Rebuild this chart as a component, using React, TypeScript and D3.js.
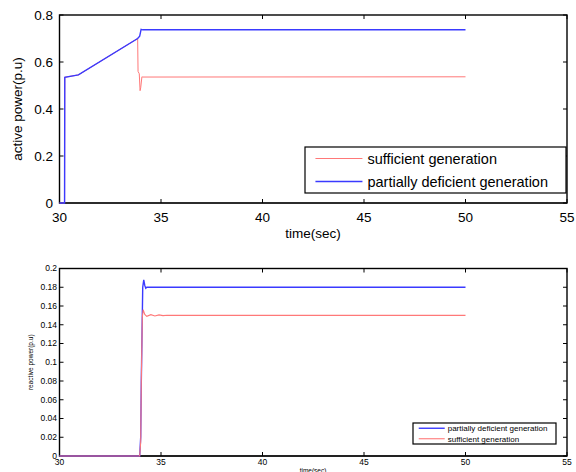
import * as d3 from 'd3'

// active power (top panel)
const activeDeficient: [number, number][] = [
  [30, 0], [30.25, 0], [30.26, 0.535], [30.93, 0.545], [33.85, 0.70],
  [33.95, 0.71], [34.02, 0.739], [34.1, 0.737], [50, 0.737],
]
const activeSufficient: [number, number][] = [
  [30, 0], [30.25, 0], [30.26, 0.535], [30.93, 0.545], [33.85, 0.70],
  [33.87, 0.56], [33.93, 0.55], [33.97, 0.478], [34.0, 0.49], [34.06, 0.537],
  [34.1, 0.536], [50, 0.537],
]

// reactive power (bottom panel)
const reactiveDeficient: [number, number][] = [
  [30, 0], [33.95, 0], [34.0, 0.02], [34.03, 0.08], [34.1, 0.18],
  [34.15, 0.188], [34.2, 0.182], [34.25, 0.179], [34.3, 0.18], [50, 0.18],
]
const reactiveSufficient: [number, number][] = [
  [30, 0], [33.95, 0], [34.0, 0.015], [34.03, 0.08], [34.08, 0.148],
  [34.12, 0.156], [34.2, 0.151], [34.3, 0.149], [34.5, 0.1508], [34.7, 0.1494],
  [34.9, 0.1505], [35.1, 0.1497], [35.3, 0.1502], [35.5, 0.15], [50, 0.15],
]

const xTicks = [30, 35, 40, 45, 50, 55]
const activeTicks = [0, 0.2, 0.4, 0.6, 0.8]
const reactiveTicks = [0, 0.02, 0.04, 0.06, 0.08, 0.1, 0.12, 0.14, 0.16, 0.18, 0.2]

const RED = '#ff7878'
const BLUE = '#3a3aff'

type Series = { name: string; data: [number, number][]; color: string; width: number }

type PanelProps = {
  top: number
  bottom: number
  yMax: number
  yTicks: number[]
  series: Series[]
  legend: Series[]
  fontSize: number
  labelFont: number
  yLabel: string
  yLabelX: number
  xLabelY: number
  tickLabelY: number
  tickPad: number
  legendBox: { x: number; y: number; w: number; h: number }
  legendFont: number
  legendLine: number
  legendGap: number
  bottomStroke: number
}

const left = 59.5
const right = 567

const Panel = (p: PanelProps) => {
  const x = d3.scaleLinear().domain([30, 55]).range([left, right])
  const y = d3.scaleLinear().domain([0, p.yMax]).range([p.bottom, p.top])
  const line = d3.line<[number, number]>().x(d => x(d[0])).y(d => y(d[1]))
  const tl = 4
  const rowH = p.legendBox.h / p.legend.length
  return (
    <g>
      <rect x={left} y={p.top} width={right - left} height={p.bottom - p.top} fill="none" stroke="#000" strokeWidth={1.4} />
      <line x1={left} x2={right} y1={p.bottom} y2={p.bottom} stroke="#222" strokeWidth={p.bottomStroke} />
      {xTicks.map(t => (
        <g key={t}>
          <line x1={x(t)} x2={x(t)} y1={p.bottom} y2={p.bottom - tl} stroke="#000" />
          <line x1={x(t)} x2={x(t)} y1={p.top} y2={p.top + tl} stroke="#000" />
          <text x={x(t)} y={p.tickLabelY} textAnchor="middle" fontSize={p.fontSize}>{t}</text>
        </g>
      ))}
      {p.yTicks.map(t => (
        <g key={t}>
          <line x1={left} x2={left + tl} y1={y(t)} y2={y(t)} stroke="#000" />
          <line x1={right} x2={right - tl} y1={y(t)} y2={y(t)} stroke="#000" />
          <text x={left - p.tickPad} y={y(t)} dy="0.35em" textAnchor="end" fontSize={p.fontSize}>{t}</text>
        </g>
      ))}
      {p.series.map(s => (
        <path key={s.name} d={line(s.data) ?? ''} fill="none" stroke={s.color} strokeWidth={s.width} />
      ))}
      <text x={313} y={p.xLabelY} textAnchor="middle" fontSize={p.labelFont}>time(sec)</text>
      <text transform={`translate(${p.yLabelX},${(p.top + p.bottom) / 2}) rotate(-90)`} textAnchor="middle" fontSize={p.labelFont}>{p.yLabel}</text>
      <rect x={p.legendBox.x} y={p.legendBox.y} width={p.legendBox.w} height={p.legendBox.h} fill="#fff" stroke="#000" strokeWidth={1.2} />
      {p.legend.map((s, i) => {
        const cy = p.legendBox.y + rowH * (i + 0.5)
        const lx = p.legendBox.x + p.legendBox.w * 0.04
        return (
          <g key={s.name}>
            <line x1={lx} x2={lx + p.legendLine} y1={cy} y2={cy} stroke={s.color} strokeWidth={s.width} />
            <text x={lx + p.legendLine + p.legendGap} y={cy} dy="0.35em" fontSize={p.legendFont}>{s.name}</text>
          </g>
        )
      })}
    </g>
  )
}

export default function App() {
  const sufA: Series = { name: 'sufficient generation', data: activeSufficient, color: RED, width: 1 }
  const defA: Series = { name: 'partially deficient generation', data: activeDeficient, color: BLUE, width: 1.4 }
  const sufR: Series = { name: 'sufficient generation', data: reactiveSufficient, color: RED, width: 1.1 }
  const defR: Series = { name: 'partially deficient generation', data: reactiveDeficient, color: BLUE, width: 1.4 }
  return (
    <svg width={576} height={472} style={{ position: 'absolute', left: 0, top: 0, background: '#fff' }}
      fontFamily="Liberation Sans, Arial, sans-serif">
      <Panel top={15} bottom={203} yMax={0.8} yTicks={activeTicks} series={[sufA, defA]} legend={[sufA, defA]}
        fontSize={13.5} labelFont={13.5} yLabel="active power(p.u)" yLabelX={22} xLabelY={238} tickLabelY={222} tickPad={6.5}
        legendBox={{ x: 305, y: 147, w: 261, h: 46 }} legendFont={14.5} legendLine={47} legendGap={5} bottomStroke={1.4} />
      <Panel top={268.5} bottom={456} yMax={0.2} yTicks={reactiveTicks} series={[defR, sufR]} legend={[defR, sufR]}
        fontSize={8.5} labelFont={6.5} yLabel="reactive power(p.u)" yLabelX={33} xLabelY={473} tickLabelY={465} tickPad={2.5}
        legendBox={{ x: 413, y: 423, w: 143, h: 21 }} legendFont={8} legendLine={26} legendGap={3} bottomStroke={2.2} />
    </svg>
  )
}
